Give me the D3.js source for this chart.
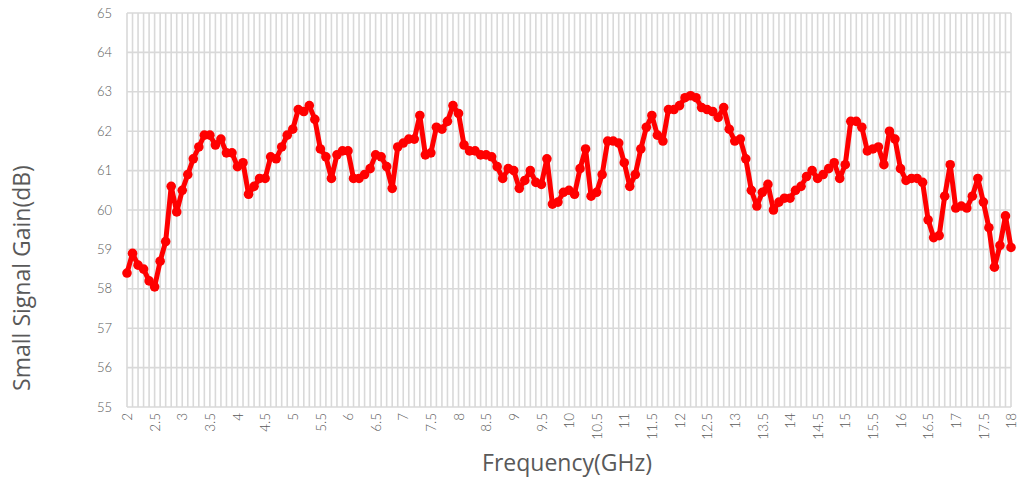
<!DOCTYPE html>
<html>
<head>
<meta charset="utf-8">
<script src="https://cdn.jsdelivr.net/npm/d3@7"></script>
<style>
  body { margin: 0; background: #fff; }
  .tick text { font-family: "Lato", "Open Sans", sans-serif; font-weight: 300; fill: #595959; }
  .title { font-family: "Open Sans", "Noto Sans", sans-serif; fill: #595959; }
</style>
</head>
<body>
<div id="body"></div>
<script>
// frequency points, 2 to 18 GHz every 0.1 GHz
var freqs = d3.range(161).map(function (i) { return +(2 + i * 0.1).toFixed(1); });
// small signal gain (dB)
var gain = [
  58.4, 58.9, 58.6, 58.5, 58.2, 58.05, 58.7, 59.2, 60.6, 59.95,
  60.5, 60.9, 61.3, 61.6, 61.9, 61.9, 61.65, 61.8, 61.45, 61.45,
  61.1, 61.2, 60.4, 60.6, 60.8, 60.8, 61.35, 61.3, 61.6, 61.9,
  62.05, 62.55, 62.5, 62.65, 62.3, 61.55, 61.35, 60.8, 61.4, 61.5,
  61.5, 60.8, 60.8, 60.9, 61.05, 61.4, 61.35, 61.1, 60.55, 61.6,
  61.7, 61.8, 61.8, 62.4, 61.4, 61.45, 62.1, 62.05, 62.25, 62.65,
  62.45, 61.65, 61.5, 61.5, 61.4, 61.4, 61.35, 61.1, 60.8, 61.05,
  61.0, 60.55, 60.75, 61.0, 60.7, 60.65, 61.3, 60.15, 60.2, 60.45,
  60.5, 60.4, 61.05, 61.55, 60.35, 60.45, 60.9, 61.75, 61.75, 61.7,
  61.2, 60.6, 60.9, 61.55, 62.1, 62.4, 61.9, 61.75, 62.55, 62.55,
  62.65, 62.85, 62.9, 62.85, 62.6, 62.55, 62.5, 62.35, 62.6, 62.05,
  61.75, 61.8, 61.3, 60.5, 60.1, 60.45, 60.65, 60.0, 60.2, 60.3,
  60.3, 60.5, 60.6, 60.85, 61.0, 60.8, 60.9, 61.05, 61.2, 60.8,
  61.15, 62.25, 62.25, 62.1, 61.5, 61.55, 61.6, 61.15, 62.0, 61.8,
  61.05, 60.75, 60.8, 60.8, 60.7, 59.75, 59.3, 59.35, 60.35, 61.15,
  60.05, 60.1, 60.05, 60.35, 60.8, 60.2, 59.55, 58.55, 59.1, 59.85,
  59.05
];
var yTicks = [55, 56, 57, 58, 59, 60, 61, 62, 63, 64, 65];
var xLabelTicks = d3.range(33).map(function (i) { return 2 + i * 0.5; });

var wwidth = 1021, hheight = 480;
var padding = { left: 127, right: 10, top: 13, bottom: 73 };
var width = wwidth - padding.left - padding.right;
var height = hheight - padding.top - padding.bottom;

var svg = d3.select("#body").append("svg")
  .attr("width", wwidth)
  .attr("height", hheight);

var xScale = d3.scaleLinear().domain([2, 18]).range([0, width]);
var yScale = d3.scaleLinear().domain([55, 65]).range([height, 0]);

var g = svg.append("g")
  .attr("transform", "translate(" + padding.left + "," + padding.top + ")");

// vertical grid, one line per point
g.append("g").selectAll("line").data(freqs).enter().append("line")
  .attr("x1", function (d) { return xScale(d); })
  .attr("x2", function (d) { return xScale(d); })
  .attr("y1", 0).attr("y2", height)
  .attr("stroke", "#d9d9d9").attr("stroke-width", 1.6);

// horizontal grid
g.append("g").selectAll("line").data(yTicks).enter().append("line")
  .attr("x1", 0).attr("x2", width)
  .attr("y1", function (d) { return yScale(d); })
  .attr("y2", function (d) { return yScale(d); })
  .attr("stroke", "#d9d9d9").attr("stroke-width", 1.6);

// y axis labels
var yAxis = d3.axisLeft(yScale).tickValues(yTicks).tickSize(0).tickPadding(15);
g.append("g").call(yAxis)
  .call(function (s) { s.select(".domain").remove(); })
  .selectAll("text").style("font-size", "13px");

// x axis labels, rotated
var xAxis = d3.axisBottom(xScale).tickValues(xLabelTicks).tickSize(0)
  .tickFormat(function (d) { return d3.format("")(d); });
var xg = g.append("g").attr("transform", "translate(0," + height + ")").call(xAxis);
xg.select(".domain").remove();
xg.selectAll("text")
  .style("font-size", "13.5px")
  .attr("text-anchor", "end")
  .attr("transform", "rotate(-90)")
  .attr("x", -6)
  .attr("y", 0)
  .attr("dy", "0.35em");

// line
var line = d3.line()
  .x(function (d, i) { return xScale(freqs[i]); })
  .y(function (d) { return yScale(d); });
g.append("path").datum(gain)
  .attr("d", line)
  .attr("fill", "none")
  .attr("stroke", "#ff0000")
  .attr("stroke-width", 5)
  .attr("stroke-linejoin", "round");

g.append("g").selectAll("circle").data(gain).enter().append("circle")
  .attr("cx", function (d, i) { return xScale(freqs[i]); })
  .attr("cy", function (d) { return yScale(d); })
  .attr("r", 4.8)
  .attr("fill", "#ff0000");

// titles
svg.append("text").attr("class", "title")
  .attr("x", 567).attr("y", 471)
  .attr("text-anchor", "middle")
  .style("font-size", "23px")
  .text("Frequency(GHz)");

svg.append("text").attr("class", "title")
  .attr("transform", "translate(30,278) rotate(-90)")
  .attr("text-anchor", "middle")
  .style("font-size", "23px")
  .text("Small Signal Gain(dB)");
</script>
</body>
</html>
